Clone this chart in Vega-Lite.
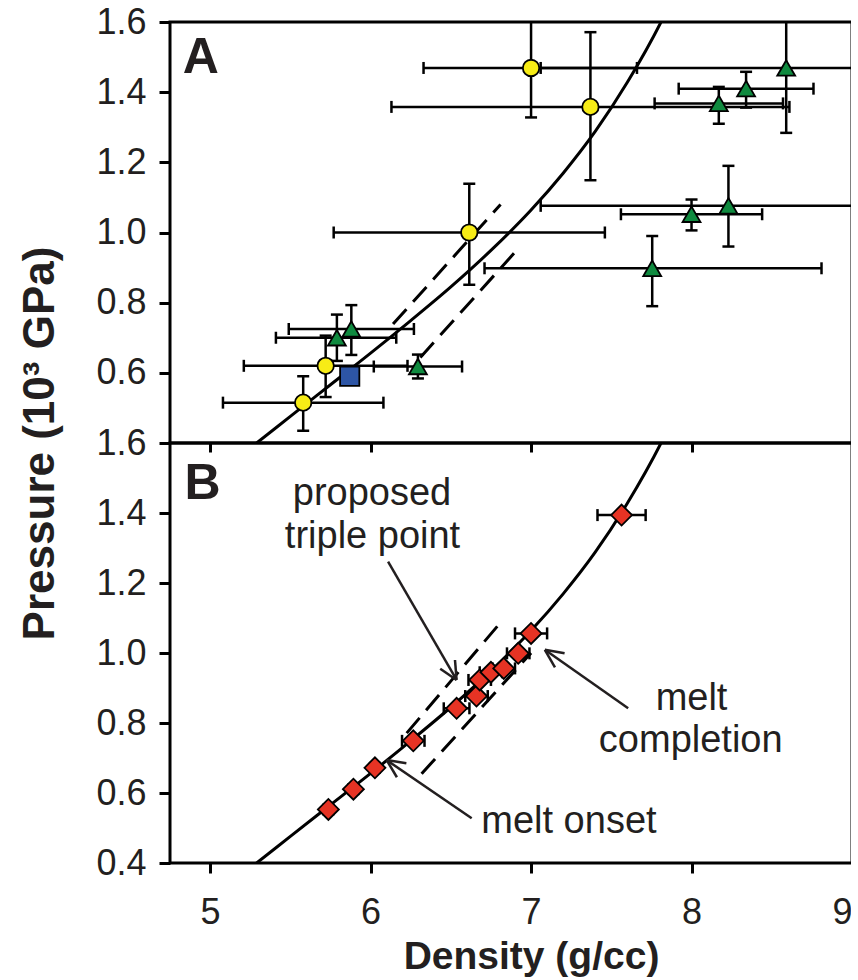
{
  "$schema": "https://vega.github.io/schema/vega-lite/v6.json",
  "background": "white",
  "padding": {"left": 16, "top": 2, "right": -4, "bottom": 2},
  "spacing": 0,
  "bounds": "flush",
  "config": {
    "view": {"stroke": "black", "strokeWidth": 3},
    "font": "Liberation Sans",
    "axis": {"grid": false, "domain": false, "tickColor": "black", "tickWidth": 3, "tickSize": 11,
      "labelFont": "Liberation Sans", "labelFontSize": 36, "labelColor": "#231f20", "labelPadding": 13,
      "titleFont": "Liberation Sans", "titleFontSize": 40, "titleFontWeight": "bold", "titleColor": "#231f20"},
    "text": {"font": "Liberation Sans", "color": "#231f20"}
  },
  "datasets": {
    "ptsA": [
      {"g": "c", "d": 5.58, "p": 0.515, "dlo": 5.08, "dhi": 6.08, "plo": 0.435, "phi": 0.59},
      {"g": "c", "d": 5.72, "p": 0.62, "dlo": 5.21, "dhi": 6.23, "plo": 0.531, "phi": 0.706},
      {"g": "c", "d": 6.615, "p": 1.0, "dlo": 5.77, "dhi": 7.46, "plo": 0.851, "phi": 1.139},
      {"g": "c", "d": 7.0, "p": 1.469, "dlo": 6.33, "dhi": 7.66, "plo": 1.328, "phi": 1.61},
      {"g": "c", "d": 7.37, "p": 1.358, "dlo": 6.13, "dhi": 8.61, "plo": 1.149, "phi": 1.571},
      {"g": "t", "d": 5.79, "p": 0.70, "dlo": 5.41, "dhi": 6.16, "plo": 0.634, "phi": 0.766},
      {"g": "t", "d": 5.88, "p": 0.725, "dlo": 5.49, "dhi": 6.27, "plo": 0.651, "phi": 0.793},
      {"g": "t", "d": 6.295, "p": 0.618, "dlo": 6.02, "dhi": 6.57, "plo": 0.584, "phi": 0.652},
      {"g": "t", "d": 7.755, "p": 0.898, "dlo": 6.71, "dhi": 8.81, "plo": 0.79, "phi": 0.99},
      {"g": "t", "d": 8.0, "p": 1.052, "dlo": 7.56, "dhi": 8.44, "plo": 1.006, "phi": 1.094},
      {"g": "t", "d": 8.23, "p": 1.076, "dlo": 7.06, "dhi": 9.4, "plo": 0.96, "phi": 1.19},
      {"g": "t", "d": 8.17, "p": 1.368, "dlo": 7.77, "dhi": 8.57, "plo": 1.31, "phi": 1.415},
      {"g": "t", "d": 8.34, "p": 1.41, "dlo": 7.92, "dhi": 8.76, "plo": 1.356, "phi": 1.458},
      {"g": "t", "d": 8.59, "p": 1.469, "dlo": 7.06, "dhi": 10.1, "plo": 1.284, "phi": 1.654},
      {"g": "s", "d": 5.87, "p": 0.59}
    ],
    "dia": [
      {"d": 5.737, "p": 0.553, "dlo": 5.707, "dhi": 5.767},
      {"d": 5.893, "p": 0.611, "dlo": 5.863, "dhi": 5.923},
      {"d": 6.027, "p": 0.672, "dlo": 5.997, "dhi": 6.057},
      {"d": 6.266, "p": 0.749, "dlo": 6.196, "dhi": 6.336},
      {"d": 6.536, "p": 0.842, "dlo": 6.456, "dhi": 6.616},
      {"d": 6.66, "p": 0.877, "dlo": 6.59, "dhi": 6.73},
      {"d": 6.68, "p": 0.923, "dlo": 6.61, "dhi": 6.75},
      {"d": 6.75, "p": 0.945, "dlo": 6.68, "dhi": 6.82},
      {"d": 6.83, "p": 0.956, "dlo": 6.76, "dhi": 6.9},
      {"d": 6.92, "p": 0.999, "dlo": 6.85, "dhi": 6.99},
      {"d": 7.0, "p": 1.056, "dlo": 6.9, "dhi": 7.1},
      {"d": 7.564, "p": 1.394, "dlo": 7.414, "dhi": 7.714}
    ],
    "curve": [
      {"d": 5.2, "p": 0.368}, {"d": 5.29, "p": 0.40}, {"d": 5.5, "p": 0.476}, {"d": 5.75, "p": 0.566},
      {"d": 6.0, "p": 0.656}, {"d": 6.25, "p": 0.749}, {"d": 6.5, "p": 0.845}, {"d": 6.75, "p": 0.949},
      {"d": 7.0, "p": 1.064}, {"d": 7.2, "p": 1.169}, {"d": 7.4, "p": 1.288}, {"d": 7.6, "p": 1.428},
      {"d": 7.81, "p": 1.60}, {"d": 7.9, "p": 1.685}
    ],
    "dashA": [
      {"id": "u", "d": 6.14, "p": 0.739}, {"id": "u", "d": 6.81, "p": 1.08},
      {"id": "l", "d": 6.31, "p": 0.644}, {"id": "l", "d": 6.91, "p": 0.949}
    ],
    "dashB": [
      {"id": "u", "d": 6.225, "p": 0.771}, {"id": "u", "d": 6.806, "p": 1.085},
      {"id": "l", "d": 6.318, "p": 0.655}, {"id": "l", "d": 7.0, "p": 1.0}
    ],
    "arrows": [
      {"d": 6.109, "p": 1.261, "d2": 6.536, "p2": 0.923},
      {"d": 6.536, "p": 0.923, "d2": 6.526, "p2": 0.980},
      {"d": 6.536, "p": 0.923, "d2": 6.434, "p2": 0.955},
      {"d": 6.630, "p": 0.528, "d2": 6.100, "p2": 0.694},
      {"d": 6.100, "p": 0.694, "d2": 6.164, "p2": 0.645},
      {"d": 6.100, "p": 0.694, "d2": 6.223, "p2": 0.685},
      {"d": 7.605, "p": 0.842, "d2": 7.086, "p2": 1.009},
      {"d": 7.086, "p": 1.009, "d2": 7.149, "p2": 0.959},
      {"d": 7.086, "p": 1.009, "d2": 7.209, "p2": 0.999}
    ],
    "notes": [
      {"t": "proposed", "d": 6.009, "p": 1.423},
      {"t": "triple point", "d": 6.012, "p": 1.299},
      {"t": "melt onset", "d": 7.236, "p": 0.485},
      {"t": "melt", "d": 8.0, "p": 0.837},
      {"t": "completion", "d": 7.995, "p": 0.718}
    ],
    "panelA": [{"t": "A", "d": 4.83, "p": 1.454}],
    "panelB": [{"t": "B", "d": 4.84, "p": 1.44}]
  },
  "vconcat": [
    {
      "width": 682,
      "height": 421,
      "layer": [
        {
          "data": {"name": "curve"},
          "mark": {"type": "line", "interpolate": "monotone", "color": "black", "strokeWidth": 3, "clip": true},
          "encoding": {
            "x": {"field": "d", "type": "quantitative", "scale": {"domain": [4.75, 9], "nice": false, "zero": false},
              "axis": {"values": [5, 6, 7, 8, 9], "labels": false, "title": null, "tickSize": 9}},
            "y": {"field": "p", "type": "quantitative", "scale": {"domain": [0.4, 1.6], "nice": false, "zero": false},
              "axis": {"values": [0.6, 0.8, 1.0, 1.2, 1.4, 1.6], "format": ".1f", "title": null}}
          }
        },
        {
          "data": {"name": "dashA"},
          "mark": {"type": "line", "color": "black", "strokeWidth": 3, "strokeDash": [20, 10], "clip": true},
          "encoding": {
            "x": {"field": "d", "type": "quantitative", "scale": {"domain": [4.75, 9], "nice": false, "zero": false}},
            "y": {"field": "p", "type": "quantitative", "scale": {"domain": [0.4, 1.6], "nice": false, "zero": false}},
            "detail": {"field": "id"}
          }
        },
        {
          "data": {"name": "ptsA"},
          "transform": [{"filter": "datum.dlo != null"}],
          "mark": {"type": "rule", "color": "black", "strokeWidth": 2.5, "clip": true},
          "encoding": {
            "x": {"field": "dlo", "type": "quantitative", "scale": {"domain": [4.75, 9], "nice": false, "zero": false}},
            "x2": {"field": "dhi"},
            "y": {"field": "p", "type": "quantitative", "scale": {"domain": [0.4, 1.6], "nice": false, "zero": false}}
          }
        },
        {
          "data": {"name": "ptsA"},
          "transform": [{"filter": "datum.dlo != null"}],
          "mark": {"type": "rule", "color": "black", "strokeWidth": 2.5, "clip": true},
          "encoding": {
            "x": {"field": "d", "type": "quantitative", "scale": {"domain": [4.75, 9], "nice": false, "zero": false}},
            "y": {"field": "plo", "type": "quantitative", "scale": {"domain": [0.4, 1.6], "nice": false, "zero": false}},
            "y2": {"field": "phi"}
          }
        },
        {
          "data": {"name": "ptsA"},
          "transform": [{"filter": "datum.dlo != null"}, {"fold": ["dlo", "dhi"], "as": ["k", "xe"]}],
          "mark": {"type": "tick", "orient": "vertical", "color": "black", "size": 12, "thickness": 2.5, "opacity": 1, "clip": true},
          "encoding": {
            "x": {"field": "xe", "type": "quantitative", "scale": {"domain": [4.75, 9], "nice": false, "zero": false}},
            "y": {"field": "p", "type": "quantitative", "scale": {"domain": [0.4, 1.6], "nice": false, "zero": false}}
          }
        },
        {
          "data": {"name": "ptsA"},
          "transform": [{"filter": "datum.dlo != null"}, {"fold": ["plo", "phi"], "as": ["k", "ye"]}],
          "mark": {"type": "tick", "orient": "horizontal", "color": "black", "size": 12, "thickness": 2.5, "opacity": 1, "clip": true},
          "encoding": {
            "x": {"field": "d", "type": "quantitative", "scale": {"domain": [4.75, 9], "nice": false, "zero": false}},
            "y": {"field": "ye", "type": "quantitative", "scale": {"domain": [0.4, 1.6], "nice": false, "zero": false}}
          }
        },
        {
          "data": {"name": "ptsA"},
          "mark": {"type": "point", "filled": true, "opacity": 1, "stroke": "black", "strokeWidth": 1.8},
          "encoding": {
            "x": {"field": "d", "type": "quantitative", "scale": {"domain": [4.75, 9], "nice": false, "zero": false}},
            "y": {"field": "p", "type": "quantitative", "scale": {"domain": [0.4, 1.6], "nice": false, "zero": false}},
            "shape": {"field": "g", "type": "nominal", "scale": {"domain": ["c", "t", "s"], "range": ["circle", "triangle-up", "square"]}, "legend": null},
            "fill": {"field": "g", "type": "nominal", "scale": {"domain": ["c", "t", "s"], "range": ["#f7ec16", "#0f8a3f", "#2d55a5"]}, "legend": null},
            "size": {"field": "g", "type": "nominal", "scale": {"domain": ["c", "t", "s"], "range": [270, 370, 240]}, "legend": null}
          }
        },
        {
          "data": {"name": "panelA"},
          "mark": {"type": "text", "align": "left", "baseline": "alphabetic", "fontSize": 50, "fontWeight": "bold"},
          "encoding": {
            "x": {"field": "d", "type": "quantitative", "scale": {"domain": [4.75, 9], "nice": false, "zero": false}},
            "y": {"field": "p", "type": "quantitative", "scale": {"domain": [0.4, 1.6], "nice": false, "zero": false}},
            "text": {"field": "t"}
          }
        }
      ]
    },
    {
      "width": 682,
      "height": 420,
      "layer": [
        {
          "data": {"name": "curve"},
          "mark": {"type": "line", "interpolate": "monotone", "color": "black", "strokeWidth": 3, "clip": true},
          "encoding": {
            "x": {"field": "d", "type": "quantitative", "scale": {"domain": [4.75, 9], "nice": false, "zero": false},
              "axis": {"values": [5, 6, 7, 8, 9], "format": "d", "title": "Density (g/cc)", "tickSize": 10, "labelPadding": 22,
                "titleBaseline": "alphabetic", "titleY": 105, "titleX": 361, "titleFontSize": 39}},
            "y": {"field": "p", "type": "quantitative", "scale": {"domain": [0.4, 1.6], "nice": false, "zero": false},
              "axis": {"values": [0.4, 0.6, 0.8, 1.0, 1.2, 1.4, 1.6], "format": ".1f", "title": "Pressure (10³ GPa)",
                "titleY": 0, "titleX": -117, "titleBaseline": "alphabetic", "titleAlign": "center", "titleFontSize": 44}}
          }
        },
        {
          "data": {"name": "dashB"},
          "mark": {"type": "line", "color": "black", "strokeWidth": 3, "strokeDash": [20, 10], "clip": true},
          "encoding": {
            "x": {"field": "d", "type": "quantitative", "scale": {"domain": [4.75, 9], "nice": false, "zero": false}},
            "y": {"field": "p", "type": "quantitative", "scale": {"domain": [0.4, 1.6], "nice": false, "zero": false}},
            "detail": {"field": "id"}
          }
        },
        {
          "data": {"name": "arrows"},
          "mark": {"type": "rule", "color": "#231f20", "strokeWidth": 2.5},
          "encoding": {
            "x": {"field": "d", "type": "quantitative", "scale": {"domain": [4.75, 9], "nice": false, "zero": false}},
            "y": {"field": "p", "type": "quantitative", "scale": {"domain": [0.4, 1.6], "nice": false, "zero": false}},
            "x2": {"field": "d2"},
            "y2": {"field": "p2"}
          }
        },
        {
          "data": {"name": "dia"},
          "mark": {"type": "rule", "color": "black", "strokeWidth": 2.5},
          "encoding": {
            "x": {"field": "dlo", "type": "quantitative", "scale": {"domain": [4.75, 9], "nice": false, "zero": false}},
            "x2": {"field": "dhi"},
            "y": {"field": "p", "type": "quantitative", "scale": {"domain": [0.4, 1.6], "nice": false, "zero": false}}
          }
        },
        {
          "data": {"name": "dia"},
          "transform": [{"fold": ["dlo", "dhi"], "as": ["k", "xe"]}],
          "mark": {"type": "tick", "orient": "vertical", "color": "black", "size": 12, "thickness": 2.5, "opacity": 1},
          "encoding": {
            "x": {"field": "xe", "type": "quantitative", "scale": {"domain": [4.75, 9], "nice": false, "zero": false}},
            "y": {"field": "p", "type": "quantitative", "scale": {"domain": [0.4, 1.6], "nice": false, "zero": false}}
          }
        },
        {
          "data": {"name": "dia"},
          "mark": {"type": "point", "shape": "diamond", "filled": true, "opacity": 1, "fill": "#e63324", "stroke": "black", "strokeWidth": 1.8, "size": 440},
          "encoding": {
            "x": {"field": "d", "type": "quantitative", "scale": {"domain": [4.75, 9], "nice": false, "zero": false}},
            "y": {"field": "p", "type": "quantitative", "scale": {"domain": [0.4, 1.6], "nice": false, "zero": false}}
          }
        },
        {
          "data": {"name": "notes"},
          "mark": {"type": "text", "align": "center", "baseline": "alphabetic", "fontSize": 38},
          "encoding": {
            "x": {"field": "d", "type": "quantitative", "scale": {"domain": [4.75, 9], "nice": false, "zero": false}},
            "y": {"field": "p", "type": "quantitative", "scale": {"domain": [0.4, 1.6], "nice": false, "zero": false}},
            "text": {"field": "t"}
          }
        },
        {
          "data": {"name": "panelB"},
          "mark": {"type": "text", "align": "left", "baseline": "alphabetic", "fontSize": 50, "fontWeight": "bold"},
          "encoding": {
            "x": {"field": "d", "type": "quantitative", "scale": {"domain": [4.75, 9], "nice": false, "zero": false}},
            "y": {"field": "p", "type": "quantitative", "scale": {"domain": [0.4, 1.6], "nice": false, "zero": false}},
            "text": {"field": "t"}
          }
        }
      ]
    }
  ]
}
